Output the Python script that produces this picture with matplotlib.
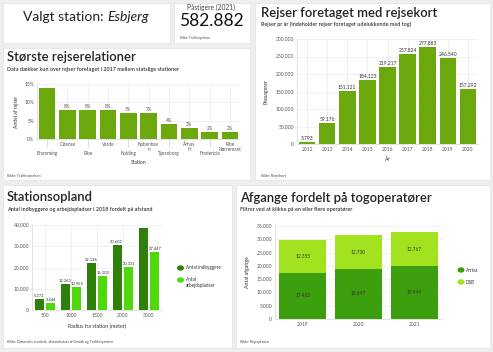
import numpy as np
import matplotlib
matplotlib.use("Agg")
import matplotlib.pyplot as plt
from matplotlib.patches import Rectangle, Circle

plt.rcParams['font.family'] = ['Lato', 'DejaVu Sans']

W, H = 493, 352

# data
rel_stations = ["Bramming", "Odense", "Ribe", "Varde", "Kolding", "Københav\nn",
                "Tjæreborg", "Århus\nH", "Fredericia", "Ribe\nNørremark"]
rel_share = [14, 8, 8, 8, 7, 7, 4, 3, 2, 2]

years_rk = ["2012", "2013", "2014", "2015", "2016", "2017", "2018", "2019", "2020"]
rejser = [5793, 59176, 151121, 184123, 219217, 257824, 277883, 246540, 157292]

radius = ["500", "1000", "1500", "2000", "3000"]
indbyggere = [5272, 12363, 22136, 30602, 38420]
arbejdspladser = [3444, 10955, 16102, 20331, 27447]

years_op = ["2019", "2020", "2021"]
arriva = [17452, 18847, 19949]
dsb = [12355, 12730, 12767]


def dk(v):
    return f"{v:,.0f}".replace(",", ".")


def rect(x0, y0, x1, y1):
    return [x0 / W, 1 - y1 / H, (x1 - x0) / W, (y1 - y0) / H]


fig = plt.figure(figsize=(W / 100, H / 100), dpi=100)
fig.patch.set_facecolor("#eeeeee")

# white panels
for x0, y0, x1, y1 in [(3, 3, 170, 43), (174, 3, 250, 43), (3, 48, 250, 180),
                       (255, 3, 490, 180), (3, 185, 232, 348), (236, 185, 490, 348)]:
    fig.patches.append(Rectangle((x0 / W, 1 - y1 / H), (x1 - x0) / W, (y1 - y0) / H,
                                 transform=fig.transFigure, facecolor="white",
                                 edgecolor="#e2e2e2", lw=0.5, zorder=-5))


def ft(x, y, s, **kw):
    fig.text(x / W, 1 - y / H, s, **kw)


TITLE = dict(ha="left", va="center", fontsize=9.4, color="#222222", fontweight="semibold")
SUB = dict(ha="left", va="center", fontsize=3.9, color="#333333", fontweight="semibold")
SRC = dict(ha="left", va="center", fontsize=2.6, color="#444444")

# header
ft(107, 17, "Valgt station: ", ha="right", va="center", fontsize=10, color="#222222")
ft(107, 17, "Esbjerg", ha="left", va="center", fontsize=10, color="#222222", style="italic")
ft(211, 7, "Påstigere (2021)", ha="center", va="center", fontsize=4.8, color="#444444")
ft(211, 21, "582.882", ha="center", va="center", fontsize=12.5, color="#111111")
ft(180, 38, "Kilde: Trafikstyrelsen", ha="left", va="center", fontsize=2.3, color="#444444")

grid_c = "#ececec"
tick_c = "#555555"


def style(ax):
    for s in ["top", "right"]:
        ax.spines[s].set_visible(False)
    ax.spines["left"].set_color("#d8d8d8")
    ax.spines["bottom"].set_color("#d8d8d8")
    ax.spines["left"].set_linewidth(0.5)
    ax.spines["bottom"].set_linewidth(0.5)
    ax.tick_params(labelsize=3.6, colors=tick_c, length=0, pad=2)
    ax.grid(True, color=grid_c, lw=0.5)
    ax.set_axisbelow(True)


# top-left: Største rejserelationer
ft(7, 57, "Største rejserelationer", **TITLE)
ft(7, 69, "Data dækker kun over rejser foretaget i 2017 mellem statslige stationer", **SUB)
ft(7, 176, "Kilde: Trafikstyrelsen", **SRC)
ax1 = fig.add_axes(rect(37, 84, 240, 139))
x1 = np.arange(len(rel_stations))
ax1.bar(x1, rel_share, width=0.82, color="#6aa80e")
ax1.set_ylim(0, 15)
ax1.set_xlim(-0.5, len(x1) - 0.5)
ax1.set_yticks([0, 5, 10, 15])
ax1.set_yticklabels(["0%", "5%", "10%", "15%"])
style(ax1)
ax1.grid(axis="x", visible=False)
for xv in x1:
    ax1.axvline(xv, color=grid_c, lw=0.5, zorder=0)
ax1.set_xticks(x1[::2])
ax1.set_xticklabels([])
ax1.tick_params(axis="x", length=6, color="#d0d0d0", width=0.5)
for i, (lab, v) in enumerate(zip(rel_stations, rel_share)):
    if i > 0:
        ax1.text(i, v + 0.3, f"{v}%", ha="center", va="bottom", fontsize=3.3, color=tick_c)
    low = i % 2 == 0
    ax1.text(i, -0.22 if low else -0.05, lab,
             transform=ax1.get_xaxis_transform(), ha="center", va="top",
             fontsize=3.4, color=tick_c, linespacing=1.0)
ax1.text(0.5, -0.38, "Station", transform=ax1.transAxes, ha="center", va="top", fontsize=3.6, color="#333333")
ax1.set_ylabel("Andel af rejser", fontsize=3.6, color="#333333", labelpad=4)

# top-right: Rejser foretaget med rejsekort
ft(261, 13, "Rejser foretaget med rejsekort", **TITLE)
ft(261, 24, "Rejser pr år (Indeholder rejser foretaget udelukkende med tog)", **SUB)
ft(261, 176, "Kilde: Rejsekort", **SRC)
ax2 = fig.add_axes(rect(297, 39, 478, 144))
x2 = np.arange(len(years_rk))
ax2.bar(x2, rejser, width=0.82, color="#6aa80e")
ax2.set_ylim(0, 300000)
ax2.set_xlim(-0.5, len(x2) - 0.5)
ax2.set_yticks(np.arange(0, 300001, 50000))
ax2.set_yticklabels([dk(v) for v in np.arange(0, 300001, 50000)])
ax2.set_xticks(x2)
ax2.set_xticklabels(years_rk)
style(ax2)
for i, v in enumerate(rejser):
    ax2.text(i, v + 3000, dk(v), ha="center", va="bottom", fontsize=3.6, color="#333333")
ax2.set_xlabel("År", fontsize=3.8, color="#333333", labelpad=3)
ax2.set_ylabel("Passagerer", fontsize=3.8, color="#333333", labelpad=5)

# bottom-left: Stationsopland
ft(7, 197, "Stationsopland", **TITLE)
ft(7, 209, "Antal indbyggere og arbejdspladser i 2018 fordelt på afstand", **SUB)
ft(7, 342, "Kilde: Danmarks statistik, afstandsdata af Geodk og Trafikstyrelsen", **SRC)
ax3 = fig.add_axes(rect(32, 225, 162, 310))
x3 = np.arange(len(radius))
bw = 0.36
ax3.bar(x3 - bw / 2 - 0.02, indbyggere, width=bw, color="#2f7f0b")
ax3.bar(x3 + bw / 2 + 0.02, arbejdspladser, width=bw, color="#4fd90b")
ax3.set_ylim(0, 40000)
ax3.set_xlim(-0.5, len(x3) - 0.5)
ax3.set_yticks(np.arange(0, 40001, 10000))
ax3.set_yticklabels([dk(v) for v in np.arange(0, 40001, 10000)])
ax3.set_xticks(x3)
ax3.set_xticklabels(radius)
style(ax3)
for i in x3:
    if i < 4:
        ax3.text(i - bw / 2 - 0.06, indbyggere[i] + 400, dk(indbyggere[i]), ha="center",
                 va="bottom", fontsize=2.9, color="#333333")
    ax3.text(i + bw / 2 + 0.06, arbejdspladser[i] + 400, dk(arbejdspladser[i]), ha="center",
             va="bottom", fontsize=2.9, color="#333333")
ax3.set_xlabel("Radius fra station (meter)", fontsize=3.8, color="#333333", labelpad=4)
for c, yy, lab in [("#2f7f0b", 268, "Antal indbyggere"), ("#4fd90b", 280, "Antal\narbejdspladser")]:
    fig.patches.append(Circle((180.5 / W, 1 - yy / H), 2.8 / W,
                              transform=fig.transFigure, color=c))
    ft(186, yy if "\n" not in lab else yy + 2.5, lab, ha="left", va="center",
       fontsize=3.3, color="#333333", linespacing=1.3)

# bottom-right: Afgange fordelt på togoperatører
ft(240, 198, "Afgange fordelt på togoperatører", **TITLE)
ft(240, 209, "Filtrer ved at klikke på en eller flere operatører", **SUB)
ft(240, 342, "Kilde: Rejseplanen", **SRC)
ax4 = fig.add_axes(rect(275, 226, 442, 319))
x4 = np.arange(len(years_op))
ax4.bar(x4, arriva, width=0.85, color="#3c9f0e")
ax4.bar(x4, dsb, width=0.85, bottom=arriva, color="#a3e21f")
ax4.set_ylim(0, 35000)
ax4.set_xlim(-0.5, len(x4) - 0.5)
ax4.set_yticks(np.arange(0, 35001, 5000))
ax4.set_yticklabels([dk(v) for v in np.arange(0, 35001, 5000)])
ax4.set_xticks(x4)
ax4.set_xticklabels(years_op)
style(ax4)
ax4.grid(axis="x", visible=False)
for i in x4:
    ax4.text(i, arriva[i] / 2, dk(arriva[i]), ha="center", va="center", fontsize=3.4, color="#333333")
    ax4.text(i, arriva[i] + dsb[i] / 2, dk(dsb[i]), ha="center", va="center", fontsize=3.4, color="#333333")
ax4.set_ylabel("Antal afgange", fontsize=3.8, color="#333333", labelpad=5)
for c, yy, lab in [("#3c9f0e", 270, "Arriva"), ("#a3e21f", 282, "DSB")]:
    fig.patches.append(Circle((461 / W, 1 - yy / H), 2.8 / W,
                              transform=fig.transFigure, color=c))
    ft(466, yy, lab, ha="left", va="center", fontsize=3.3, color="#333333")

fig.savefig("out.png", dpi=100, facecolor=fig.get_facecolor())
